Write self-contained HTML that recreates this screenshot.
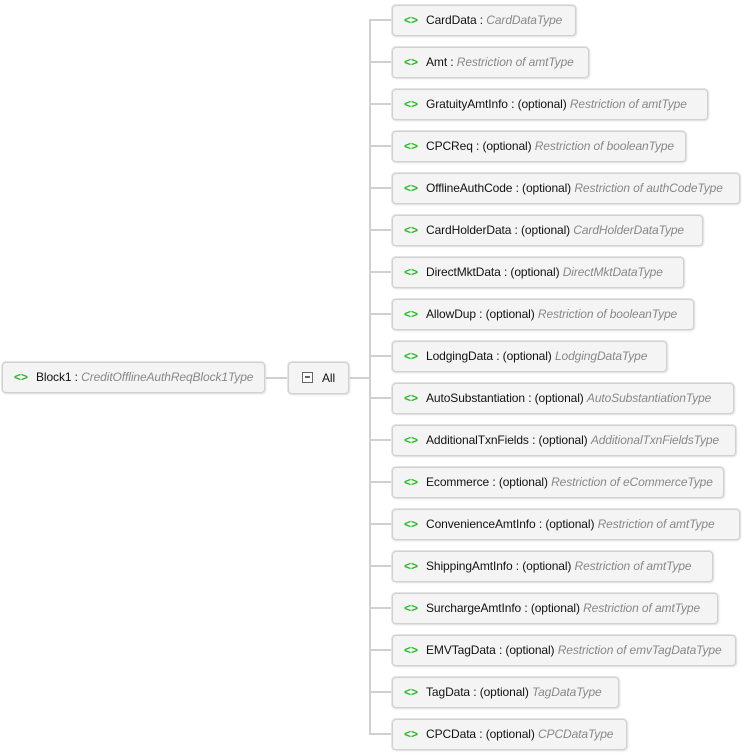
<!DOCTYPE html>
<html><head><meta charset="utf-8"><style>
body{margin:0;width:744px;height:756px;background:#fff;position:relative;overflow:hidden;font-family:"Liberation Sans",sans-serif;}
.b{position:absolute;height:31px;background:#f4f4f4;border:1px solid #d0d0d0;border-radius:4px;box-shadow:0 0 0 1px #e4e4e4,1px 1px 2px rgba(0,0,0,.12);box-sizing:border-box;white-space:nowrap;overflow:hidden;font-size:12px;line-height:29px;color:#111;letter-spacing:-0.1px}
.b .i{color:#22bb22;font-weight:bold;margin:0 8px 0 11px;letter-spacing:0}
.b em{color:#888;}
.l{position:absolute;background:#d0d0d0}
</style></head><body>
<div class="l" style="left:265px;top:377px;width:23px;height:2px"></div>
<div class="l" style="left:349px;top:377px;width:21px;height:2px"></div>
<div class="l" style="left:369px;top:19px;width:2px;height:716px"></div>
<div class="b" style="left:2px;top:362px;width:263px"><span class="i">&lt;&gt;</span>Block1 : <em>CreditOfflineAuthReqBlock1Type</em></div>
<div class="b" style="left:288px;top:362px;width:61px;height:32px;line-height:30px"><span style="display:inline-block;width:9px;height:9px;border:1px solid #666;margin:0 9px 0 13px;vertical-align:-1px;position:relative;background:#fafafa"><span style="position:absolute;left:2px;top:3px;width:5px;height:2px;border:1px solid #666;box-sizing:border-box"></span></span>All</div>
<script>
var d=[["CardData","","CardDataType",576],["Amt","","Restriction of amtType",589],["GratuityAmtInfo","(optional) ","Restriction of amtType",708],["CPCReq","(optional) ","Restriction of booleanType",686],["OfflineAuthCode","(optional) ","Restriction of authCodeType",740],["CardHolderData","(optional) ","CardHolderDataType",703],["DirectMktData","(optional) ","DirectMktDataType",684],["AllowDup","(optional) ","Restriction of booleanType",694],["LodgingData","(optional) ","LodgingDataType",667],["AutoSubstantiation","(optional) ","AutoSubstantiationType",734],["AdditionalTxnFields","(optional) ","AdditionalTxnFieldsType",736],["Ecommerce","(optional) ","Restriction of eCommerceType",724],["ConvenienceAmtInfo","(optional) ","Restriction of amtType",740],["ShippingAmtInfo","(optional) ","Restriction of amtType",713],["SurchargeAmtInfo","(optional) ","Restriction of amtType",718],["EMVTagData","(optional) ","Restriction of emvTagDataType",736],["TagData","(optional) ","TagDataType",619],["CPCData","(optional) ","CPCDataType",627]];
var h="";d.forEach(function(r,k){var c=20+42*k;
h+='<div class="l" style="left:370px;top:'+(c-1)+'px;width:22px;height:2px"></div>';
h+='<div class="b" style="left:392px;top:'+(c-15)+'px;width:'+(r[3]-392)+'px"><span class="i">&lt;&gt;</span>'+r[0]+' : '+r[1]+'<em>'+r[2]+'</em></div>';});
document.write(h);
</script>
</body></html>
